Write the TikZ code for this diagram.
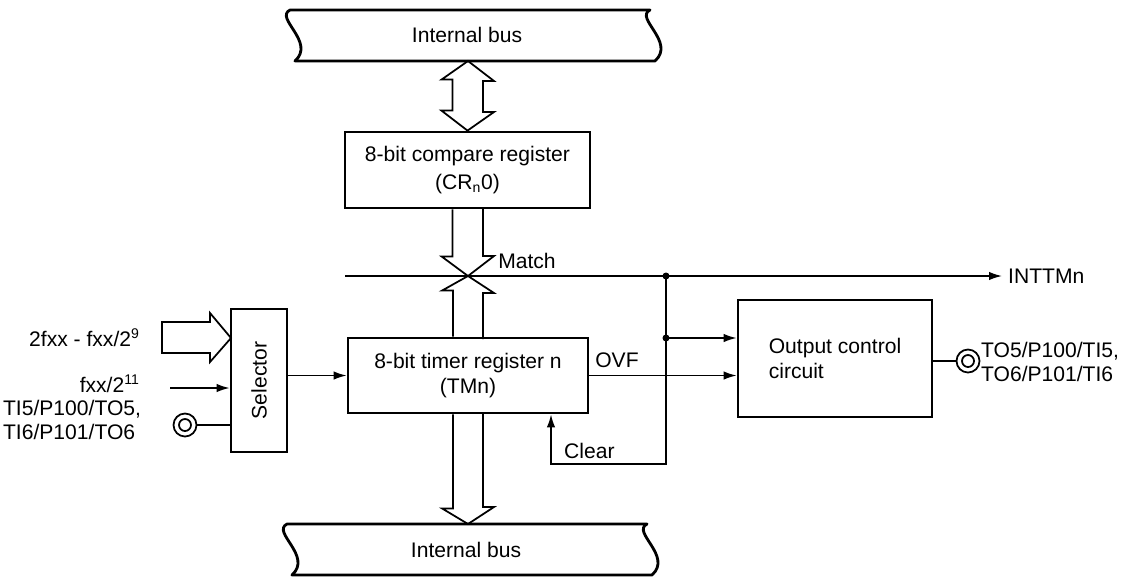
\documentclass[tikz,border=0pt]{standalone}
\usepackage{fontspec}
\setmainfont{Liberation Sans}
\usepackage{tikz}
\usetikzlibrary{arrows.meta}
\tikzstyle{block}=[draw, line width=1.6pt, inner sep=0pt]
\tikzstyle{bus}=[draw, line width=1.6pt, line join=round]
\tikzstyle{fat}=[draw, line width=1pt, line join=miter]
\tikzstyle{sig}=[draw, line width=0.9pt]
\tikzstyle{arrow}=[draw=black, >={Latex[length=2.6mm,width=1.7mm]}]
\tikzstyle{dot}=[circle, fill, inner sep=0pt, minimum size=1.4mm]
\tikzstyle{term}=[circle, draw, line width=1pt, minimum size=4.6mm, inner sep=0pt,
  path picture={\draw[line width=1pt] (path picture bounding box.center) circle (1.2mm);}]

\begin{document}
\begin{tikzpicture}[x=0.02cm, y=-0.02cm, font=\fontsize{12}{14}\selectfont]
	\useasboundingbox (0,0) rectangle (1145,579);
	\begin{scope}
		% blocks
		\node (cmp) at (467.5,170)[block, minimum width=4.9cm, minimum height=1.52cm, align=center] {8-bit compare register\\[2pt](CR\textsubscript{n}0)};
		\node (tmr) at (468,375.5)[block, minimum width=4.8cm, minimum height=1.5cm, align=center] {8-bit timer register n\\(TMn)};
		\node (sel) at (259,380.5)[block, minimum width=1.12cm, minimum height=2.86cm] {};
		\node (selt) at (sel.center)[rotate=90] {Selector};
		\node (occ) at (835,358.5)[block, minimum width=3.88cm, minimum height=2.34cm, align=left] {Output control\\circuit};
		% labels
		\node (busT) at (467,35) {Internal bus};
		\node (busB) at (466,550) {Internal bus};
		\node (int) at (1002,276)[anchor=west] {INTTMn};
		\node (match) at (527,261) {Match};
		\node (ovf) at (617,360) {OVF};
		\node (clear) at (558,451)[anchor=west] {Clear};
		\node (in1l) at (146,338)[anchor=east] {2fxx - fxx/2\textsuperscript{9}};
		\node (in2l) at (146,384)[anchor=east] {fxx/2\textsuperscript{11}};
		\node (t1) at (185,425)[term] {};
		\node (t1l) at (1,420)[anchor=west, inner sep=1pt, align=left] {TI5/P100/TO5,\\TI6/P101/TO6};
		\node (t2) at (968,361)[term] {};
		\node (t2l) at (979,362)[anchor=west, inner sep=1pt, align=left] {TO5/P100/TI5,\\TO6/P101/TI6};
		% points
		\coordinate (bT) at (468,61);
		\coordinate (bB) at (468,524);
		\coordinate (m) at (468,276);
		\coordinate (ms) at (345,276);
		\coordinate (j1) at (666,276);
		\coordinate (j2) at (666,338);
		\coordinate (clr) at (551,464);
		\coordinate (in1) at (231,338);
		\coordinate (in2) at (170,388);
	\end{scope}
	\begin{scope}
		% internal buses
		\draw[bus] (290,10) -- (650,10) .. controls (634,18) and (676,42) .. (655,61) -- (295,61) .. controls (316,42) and (274,18) .. cycle;
		\draw[bus] (287,524) -- (647,524) .. controls (631,532) and (673,556) .. (652,575) -- (292,575) .. controls (313,556) and (271,532) .. cycle;
		% wide arrows
		\draw[fat] (bT) -- ++(26,20) -- ++(-11,0) -- ++(0,31) -- ++(11,0) -- (cmp.north) -- ++(-26,-20) -- ++(11,0) -- ++(0,-31) -- ++(-11,0) -- cycle;
		\draw[fat] (cmp.south) ++(-15,0) -- ++(0,47) -- ++(-11,0) -- (m) -- ++(26,-20) -- ++(-11,0) -- ++(0,-47);
		\draw[fat] (tmr.north) ++(-15,0) -- ++(0,-46) -- ++(-11,0) -- (m) -- ++(26,17) -- ++(-11,0) -- ++(0,46);
		\draw[fat] (tmr.south) ++(-15,0) -- ++(0,94) -- ++(-11,0) -- (bB) -- ++(26,-17) -- ++(-11,0) -- ++(0,-94);
		\draw[fat] (in1) -- ++(-21,-25) -- ++(0,9) -- ++(-48,0) -- ++(0,31) -- ++(48,0) -- ++(0,9) -- cycle;
		% signals
		\draw[sig, arrow, ->] (ms) -- (int.west);
		\draw[sig, arrow, ->] (in2) -- (in2 -| sel.west);
		\draw[sig] (t1) -- (t1 -| sel.west);
		\draw[sig, arrow, ->] (sel.east |- tmr.west) -- (tmr.west);
		\draw[sig, arrow, ->] (tmr.east) -- (tmr.east -| occ.west);
		\draw[sig, arrow, ->] (j2) -- (j2 -| occ.west);
		\draw[sig, arrow, ->] (j1) |- (clr) -- (clr |- tmr.south);
		\draw[sig] (occ.east |- t2) -- (t2);
		\node (d1) at (j1)[dot] {};
		\node (d2) at (j2)[dot] {};
	\end{scope}
\end{tikzpicture}
\end{document}
